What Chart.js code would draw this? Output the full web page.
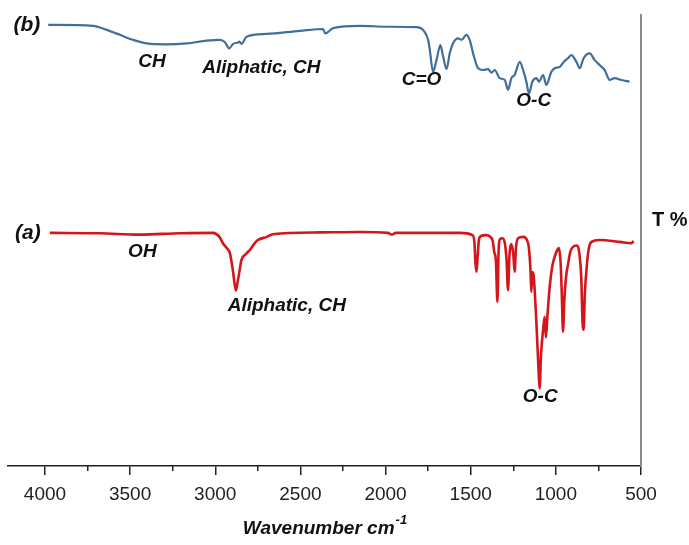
<!DOCTYPE html>
<html>
<head>
<meta charset="utf-8">
<title>FTIR spectra</title>
<script src="https://cdn.jsdelivr.net/npm/chart.js@4.4.1/dist/chart.umd.min.js"></script>
<style>
    body { margin: 0; background: #fff; }
    canvas { display: block; }
</style>
</head>
<body>
<canvas id="ftir-canvas" width="689" height="545"></canvas>
<script>
// spectrum (b): wavenumber / transmittance (arbitrary offset units)
const WN_B = [3981, 3718, 3638, 3560, 3484, 3403, 3286, 3168, 3051, 2973, 2944, 2918, 2895, 2866, 2858, 2846,
    2816, 2699, 2503, 2367, 2354, 2308, 2151, 1995, 1818, 1780, 1750, 1740, 1721, 1701, 1678, 1662, 1642, 1623,
    1604, 1574, 1554, 1525, 1506, 1486, 1457, 1428, 1398, 1378, 1359, 1330, 1300, 1281, 1261, 1242, 1212, 1189,
    1173, 1158, 1138, 1114, 1099, 1075, 1056, 1026, 1007, 977, 954, 929, 909, 879, 860, 837, 801, 772, 743, 713,
    684, 655, 615, 567];
const T_B = [97.8, 97.6, 96.7, 95.6, 94.5, 93.7, 93.5, 93.7, 94.3, 94.5, 94.0, 92.6, 93.6, 93.9, 94.1, 93.6,
    95.2, 95.8, 96.5, 96.9, 95.9, 97.1, 97.6, 97.4, 97.3, 96.7, 94.5, 92.2, 87.4, 90.0, 93.3, 90.8, 88.0, 91.5,
    93.7, 94.8, 94.5, 95.6, 94.5, 91.5, 88.2, 87.8, 88.0, 87.2, 87.8, 86.0, 85.6, 83.4, 86.0, 86.7, 89.6, 87.4,
    85.2, 82.6, 85.2, 86.0, 85.2, 86.7, 84.5, 87.4, 88.2, 88.5, 89.6, 90.4, 91.1, 89.6, 88.2, 90.4, 91.5, 90.0,
    88.9, 87.8, 85.6, 86.0, 85.6, 85.2];

// spectrum (a)
const WN_A = [3971, 3677, 3442, 3208, 3014, 2975, 2955, 2930, 2914, 2897, 2879, 2870, 2861, 2846, 2820, 2797,
    2770, 2750, 2697, 2662, 2386, 2151, 1987, 1963, 1940, 1682, 1564, 1490, 1478, 1472, 1466, 1460, 1452, 1440,
    1408, 1385, 1370, 1362, 1352, 1343, 1336, 1328, 1314, 1300, 1290, 1281, 1272, 1262, 1250, 1242, 1234, 1222,
    1193, 1163, 1149, 1144, 1138, 1130, 1115, 1100, 1095, 1088, 1075, 1066, 1058, 1050, 1036, 1020, 1007, 990,
    982, 972, 965, 958, 950, 940, 929, 915, 899, 880, 870, 860, 851, 842, 837, 830, 817, 805, 791, 743, 625,
    557, 543];
const T_A = [51.7, 51.6, 51.3, 51.6, 51.7, 50.8, 49.4, 48.2, 47.2, 43.5, 38.9, 40.5, 42.4, 45.7, 47.0, 47.9,
    49.3, 50.1, 50.8, 51.4, 51.8, 51.9, 51.7, 51.3, 51.7, 51.7, 51.7, 51.2, 49.5, 45.0, 43.1, 46.0, 50.0, 51.0,
    51.2, 50.8, 49.8, 47.5, 45.5, 36.4, 48.0, 50.3, 50.5, 49.5, 46.0, 39.0, 47.0, 49.2, 47.0, 43.1, 48.5, 50.5,
    50.8, 49.4, 43.5, 38.6, 43.0, 42.0, 32.4, 20.0, 17.2, 24.0, 30.2, 33.1, 28.5, 33.0, 39.8, 44.5, 46.4, 48.0,
    48.3, 45.0, 38.0, 29.8, 37.0, 42.0, 44.6, 47.5, 48.6, 48.9, 48.6, 46.5, 42.0, 31.0, 30.2, 38.0, 44.9, 48.5,
    49.7, 50.1, 49.7, 49.4, 49.9];

// axis ticks
const MAJOR_TICKS = [500, 1000, 1500, 2000, 2500, 3000, 3500, 4000];
const MINOR_TICKS = [750, 1250, 1750, 2250, 2750, 3250, 3750];

// band labels, anchored in data units
const NOTE_TEXT = ["(b)", "(a)", "CH", "Aliphatic, CH", "C=O", "O-C", "OH", "Aliphatic, CH", "O-C"];
const NOTE_WN = [4106, 4100, 3372, 2729, 1789, 1130, 3428, 2580, 1092];
const NOTE_T = [97.8, 51.7, 89.6, 88.2, 85.6, 80.9, 47.5, 35.5, 15.4];

const FONT = "'Liberation Sans', Arial, sans-serif";

const textPlugin = {
    id: "ftirText",
    afterDraw(chart) {
        const ctx = chart.ctx;
        const x = chart.scales.x;
        const y = chart.scales.y;
        ctx.save();
        ctx.fillStyle = "#111";
        ctx.textAlign = "center";
        ctx.textBaseline = "middle";
        NOTE_TEXT.forEach((t, i) => {
            ctx.font = (t.startsWith("(") ? "bold italic 21px " : "bold italic 19px ") + FONT;
            ctx.fillText(t, x.getPixelForValue(NOTE_WN[i]), y.getPixelForValue(NOTE_T[i]));
        });

        // right hand label
        ctx.textAlign = "left";
        ctx.font = "bold 20px " + FONT;
        ctx.fillText("T %", chart.chartArea.right + 11, 220);

        // axis title with superscript
        const main = "Wavenumber cm";
        const sup = "-1";
        ctx.font = "bold italic 19px " + FONT;
        const w1 = ctx.measureText(main).width;
        ctx.font = "bold italic 13px " + FONT;
        const w2 = ctx.measureText(sup).width;
        const startX = (x.left + x.right) / 2 - (w1 + w2) / 2;
        ctx.textBaseline = "alphabetic";
        ctx.font = "bold italic 19px " + FONT;
        ctx.fillText(main, startX, 534);
        ctx.font = "bold italic 13px " + FONT;
        ctx.fillText(sup, startX + w1 + 1, 524);
        ctx.restore();
    }
};

const toPoints = (xs, ys) => xs.map((v, i) => ({x: v, y: ys[i]}));

new Chart(document.getElementById("ftir-canvas"), {
    type: "scatter",
    data: {
        datasets: [
            {
                label: "(b)",
                data: toPoints(WN_B, T_B),
                showLine: true,
                borderColor: "#3f6f9a",
                borderWidth: 2.2,
                pointRadius: 0,
                cubicInterpolationMode: "monotone"
            },
            {
                label: "(a)",
                data: toPoints(WN_A, T_A),
                showLine: true,
                borderColor: "#d4161b",
                borderWidth: 2.6,
                pointRadius: 0,
                cubicInterpolationMode: "monotone"
            }
        ]
    },
    options: {
        responsive: false,
        animation: false,
        layout: {padding: {left: 8, top: 15, right: 0, bottom: 0}},
        plugins: {legend: {display: false}, tooltip: {enabled: false}},
        scales: {
            x: {
                type: "linear",
                position: "bottom",
                reverse: true,
                min: 500,
                max: 4217,
                afterBuildTicks: (axis) => {
                    axis.ticks = MAJOR_TICKS.map(v => ({value: v}));
                },
                afterFit: (axis) => {
                    axis.height = 79;
                },
                border: {display: true, color: "#222", width: 1.5},
                grid: {drawOnChartArea: false, drawTicks: true, tickLength: 9, color: "#222", lineWidth: 1.5},
                ticks: {
                    color: "#222",
                    padding: 8,
                    maxRotation: 0,
                    font: {family: FONT, size: 19},
                    callback: (v) => String(v)
                }
            },
            x2: {
                type: "linear",
                axis: "x",
                position: {y: 0},
                reverse: true,
                min: 500,
                max: 4217,
                afterBuildTicks: (axis) => {
                    axis.ticks = MINOR_TICKS.map(v => ({value: v}));
                },
                border: {display: false},
                grid: {drawOnChartArea: false, drawTicks: true, tickLength: 5, color: "#222", lineWidth: 1.5},
                ticks: {callback: () => ""}
            },
            y: {
                type: "linear",
                position: "right",
                min: 0,
                max: 100,
                afterFit: (axis) => {
                    axis.width = 48;
                },
                border: {display: true, color: "#8c8c8c", width: 2},
                grid: {display: false},
                ticks: {display: false}
            }
        }
    },
    plugins: [textPlugin]
});
</script>
</body>
</html>
